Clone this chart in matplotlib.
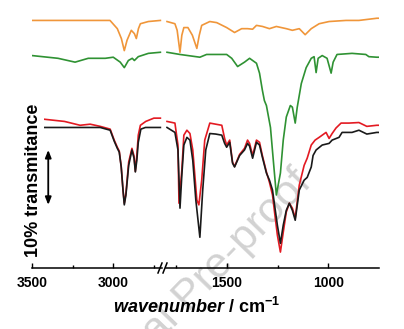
import matplotlib
matplotlib.use('Agg')
import matplotlib.pyplot as plt
from matplotlib.ticker import FixedLocator, NullFormatter

plt.rcParams['font.family'] = ['Liberation Sans', 'DejaVu Sans']
plt.rcParams['mathtext.fontset'] = 'custom'
plt.rcParams['mathtext.rm'] = 'Liberation Sans:bold'
plt.rcParams['mathtext.it'] = 'Liberation Sans:italic:bold'
plt.rcParams['mathtext.bf'] = 'Liberation Sans:bold'

# spectra, transmittance with vertical offsets (%), high-wavenumber part
orange_hi_wn = [3500, 3100, 3020, 2975, 2950, 2932, 2915, 2889, 2870, 2858, 2845, 2833, 2784, 2710]
orange_hi = [45.1, 45.1, 45.1, 43.6, 41.8, 39.6, 41.5, 43.3, 42.7, 41.8, 43.6, 44.5, 44.9, 45.1]

green_hi_wn = [3500, 3340, 3235, 3154, 3049, 3000, 2957, 2932, 2907, 2883, 2870, 2846, 2784, 2710]
green_hi = [38.7, 38.2, 37.5, 38.2, 38.2, 38.4, 37.5, 36.5, 37.8, 38.2, 37.8, 38.5, 39.1, 39.3]

black_hi_wn = [3425, 3080, 3019, 2994, 2975, 2963, 2951, 2940, 2932, 2922, 2905, 2885, 2872, 2864,
               2855, 2846, 2830, 2802, 2710]
black_hi = [25.6, 25.6, 25.1, 23.1, 21.8, 21.1, 18.4, 14.2, 11.5, 13.3, 18.7, 21.5, 20.0, 17.5,
            19.6, 22.9, 25.3, 25.6, 25.6]

red_hi_wn = [3425, 3300, 3204, 3142, 3080, 3019, 2994, 2975, 2963, 2951, 2940, 2932, 2922,
             2905, 2885, 2872, 2864, 2855, 2846, 2833, 2800, 2750, 2710]
red_hi = [27.1, 26.7, 26.0, 26.2, 25.8, 25.3, 23.3, 22.0, 21.3, 18.5, 14.2, 11.8, 13.6,
          19.3, 21.8, 20.4, 17.6, 20.5, 24.2, 26.0, 26.7, 27.3, 27.3]

# fingerprint part
orange_lo_wn = [1795, 1756, 1745, 1731, 1722, 1712, 1692, 1670, 1648, 1636, 1624, 1584, 1550, 1501,
                1462, 1427, 1398, 1373, 1354, 1324, 1290, 1256, 1207, 1177, 1143, 1114, 1084, 1045,
                996, 913, 849, 760, 750]
orange_lo = [44.9, 44.5, 43.3, 39.3, 42.4, 43.8, 43.8, 42.4, 40.0, 42.4, 44.2, 44.9, 44.7, 43.8,
             42.9, 43.6, 43.6, 43.5, 44.2, 44.0, 43.6, 44.0, 43.6, 43.3, 43.6, 42.5, 43.6, 44.5,
             44.9, 45.1, 45.1, 45.5, 45.5]

green_lo_wn = [1795, 1731, 1692, 1633, 1600, 1501, 1476, 1447, 1413, 1388, 1354, 1339, 1325, 1315,
               1305, 1285, 1271, 1256, 1236, 1222, 1207, 1187, 1177, 1163, 1153, 1133, 1109, 1084,
               1070, 1060, 1050, 1030, 1006, 986, 976, 957, 883, 815, 800, 761, 750]
green_lo = [39.3, 38.9, 38.7, 38.4, 38.9, 38.9, 38.2, 36.7, 37.5, 38.2, 37.3, 35.5, 32.4, 30.5,
            29.6, 25.6, 19.6, 13.3, 17.3, 23.3, 27.5, 29.6, 29.3, 26.4, 29.3, 33.6, 36.5, 38.2,
            38.5, 35.6, 38.2, 38.7, 38.2, 35.5, 37.5, 38.9, 39.1, 38.9, 38.5, 38.4, 38.4]

black_lo_wn = [1795, 1756, 1741, 1731, 1722, 1712, 1697, 1682, 1668, 1653, 1633, 1619, 1604, 1584,
               1555, 1525, 1511, 1501, 1486, 1472, 1462, 1437, 1413, 1398, 1388, 1373, 1354, 1339,
               1325, 1305, 1290, 1275, 1266, 1251, 1236, 1222, 1207, 1192, 1177, 1163, 1143, 1119,
               1104, 1084, 1075, 1060, 1030, 996, 981, 947, 932, 883, 849, 810, 761, 750]
black_lo = [25.6, 24.7, 21.5, 10.9, 16.9, 22.4, 23.8, 23.3, 19.6, 12.4, 5.6, 14.2, 21.5, 24.5,
            24.4, 24.2, 22.7, 22.0, 22.9, 19.1, 18.4, 20.5, 21.5, 22.7, 22.2, 20.0, 22.9, 22.4,
            20.2, 17.3, 16.0, 14.2, 11.8, 7.8, 4.5, 7.8, 10.5, 11.8, 10.5, 8.7, 14.2, 16.0,
            16.5, 18.4, 20.5, 21.5, 22.4, 22.7, 23.3, 23.8, 24.7, 24.7, 25.1, 24.4, 24.7, 24.7]

red_lo_wn = [1795, 1756, 1741, 1736, 1722, 1712, 1697, 1682, 1668, 1648, 1638, 1624, 1609, 1584,
             1555, 1525, 1511, 1501, 1486, 1472, 1462, 1437, 1413, 1398, 1388, 1373, 1354, 1339,
             1325, 1305, 1290, 1275, 1266, 1251, 1236, 1222, 1207, 1192, 1177, 1163, 1143, 1119,
             1104, 1084, 1065, 1045, 1011, 996, 981, 962, 937, 898, 849, 810, 761, 750]
red_lo = [26.7, 26.4, 22.4, 11.8, 17.8, 24.2, 25.1, 24.5, 21.5, 12.4, 11.5, 16.0, 23.3, 26.4,
          26.2, 26.0, 23.6, 22.4, 23.3, 19.3, 18.5, 20.7, 21.8, 23.3, 22.7, 20.5, 23.3, 22.9,
          20.5, 17.5, 15.6, 13.3, 10.5, 6.0, 2.9, 6.5, 10.2, 11.8, 10.9, 9.1, 15.1, 18.7,
          20.0, 22.4, 23.3, 23.8, 24.7, 23.6, 24.5, 25.5, 26.4, 26.4, 26.5, 25.8, 26.0, 26.0]

c_orange = '#f0963a'
c_green = '#2f9233'
c_red = '#e31a22'
c_black = '#1a1a1a'

fig = plt.figure(figsize=(4.04, 3.29), dpi=100)
W, H = 404.0, 329.0
bottom = 61 / H
height = 258 / H
ax1 = fig.add_axes([32 / W, bottom, 130 / W, height])
ax2 = fig.add_axes([166 / W, bottom, 213 / W, height])

lw = 1.2
for ax, parts in [(ax1, [(orange_hi_wn, orange_hi, c_orange), (green_hi_wn, green_hi, c_green),
                         (red_hi_wn, red_hi, c_red), (black_hi_wn, black_hi, c_black)]),
                  (ax2, [(orange_lo_wn, orange_lo, c_orange), (green_lo_wn, green_lo, c_green),
                         (red_lo_wn, red_lo, c_red), (black_lo_wn, black_lo, c_black)])]:
    for wn, t, c in parts:
        ax.plot(wn, t, color=c, lw=lw, solid_joinstyle='round')
    ax.set_ylim(0, 47)
    ax.patch.set_alpha(0)
    for s in ['top', 'left', 'right']:
        ax.spines[s].set_visible(False)
    ax.spines['bottom'].set_linewidth(1.1)
    ax.set_yticks([])
    ax.tick_params(axis='x', which='major', direction='in', length=3.5, width=1.0,
                   labelsize=10, pad=6)
    ax.tick_params(axis='x', which='minor', direction='in', length=2.5, width=1.0)

ax1.set_xlim(3500, 2700)
ax2.set_xlim(1800, 750)
ax1.xaxis.set_major_locator(FixedLocator([3500, 3000]))
ax1.xaxis.set_minor_locator(FixedLocator([3250, 2750]))
ax2.xaxis.set_major_locator(FixedLocator([1500, 1000]))
ax2.xaxis.set_minor_locator(FixedLocator([1750, 1250]))
ax1.xaxis.set_minor_formatter(NullFormatter())
ax2.xaxis.set_minor_formatter(NullFormatter())
for ax in (ax1, ax2):
    for lab in ax.get_xticklabels():
        lab.set_fontweight('bold')

# axis break marks
for x0 in (160, 165):
    fig.add_artist(plt.Line2D([(x0 - 2) / W, (x0 + 2) / W], [1 - 273 / H, 1 - 263 / H],
                              transform=fig.transFigure, color='k', lw=1.1))

# 10 % scale arrow
ax1.annotate('', xy=(3400, 11.5), xytext=(3400, 21.5),
             arrowprops=dict(arrowstyle='<|-|>,head_length=0.45,head_width=0.18',
                             color='k', lw=1.3, shrinkA=0, shrinkB=0))

fig.text(34 / W, 1 - 180 / H, '10% transmitance', rotation=90, fontsize=13,
         fontweight='bold', ha='center', va='center',
         bbox=dict(facecolor='white', edgecolor='none', pad=1.0))

fig.text(197 / W, 1 - 307 / H, r'$\mathit{wavenumber}$ / cm$^{-1}$', fontsize=13,
         fontweight='bold', ha='center', va='center')

fig.text(190 / W, 1 - 296 / H, 'Journal Pre-proof', rotation=46, fontsize=31,
         color='#d2d2d2', ha='center', va='center', zorder=-1)

fig.savefig('out.png', dpi=100)
